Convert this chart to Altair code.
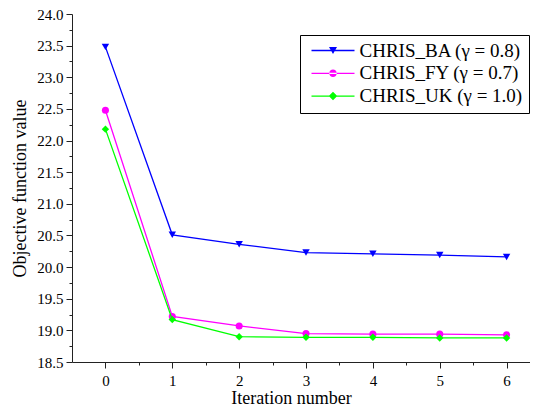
import altair as alt
import pandas as pd

iterations = [0, 1, 2, 3, 4, 5, 6]
ba = [23.48, 20.51, 20.36, 20.23, 20.21, 20.19, 20.16]
fy = [22.48, 19.22, 19.07, 18.95, 18.94, 18.94, 18.93]
uk = [22.18, 19.17, 18.90, 18.89, 18.89, 18.88, 18.88]

series_names = ["CHRIS_BA (γ = 0.8)", "CHRIS_FY (γ = 0.7)", "CHRIS_UK (γ = 1.0)"]
series_colors = ["#0000FF", "#FF00FF", "#00FF00"]
series_shapes = ["triangle-down", "circle", "diamond"]
series_sizes = [55, 50, 55]
legend_paths = [
    "M-4.3,-0.13H4.3V0.13H-4.3Z M-0.8,-0.7H0.8L0,0.7Z",
    "M-4.3,-0.13H4.3V0.13H-4.3Z M-0.75,0A0.75,0.75,0,1,0,0.75,0A0.75,0.75,0,1,0,-0.75,0Z",
    "M-4.3,-0.13H4.3V0.13H-4.3Z M0,-0.85L0.85,0L0,0.85L-0.85,0Z",
]

x_major = [0, 1, 2, 3, 4, 5, 6]
x_minor = [0.5, 1.5, 2.5, 3.5, 4.5, 5.5]
y_major = [18.5, 19.0, 19.5, 20.0, 20.5, 21.0, 21.5, 22.0, 22.5, 23.0, 23.5, 24.0]
y_minor = [18.75, 19.25, 19.75, 20.25, 20.75, 21.25, 21.75, 22.25, 22.75, 23.25, 23.75]

rows = []
for name, vals in zip(series_names, [ba, fy, uk]):
    for it, v in zip(iterations, vals):
        rows.append({"iter": it, "value": v, "series": name})
df = pd.DataFrame(rows)

FONT = "Times New Roman, Liberation Serif, serif"
AX = "#222222"
xscale = alt.Scale(domain=[-0.5, 6.35], nice=False, zero=False)
yscale = alt.Scale(domain=[18.5, 24.0], nice=False, zero=False)

x_axis = alt.Axis(values=x_major, tickSize=6, labelFont=FONT, labelFontSize=15,
                  labelColor="black", labelPadding=5, domainColor=AX, tickColor=AX,
                  grid=False, title="Iteration number", titleFont=FONT,
                  titleFontSize=18, titleFontWeight="normal", titleColor="black",
                  titleX=219, titleY=41, titleBaseline="alphabetic", orient="bottom",
                  labelFlush=False)
y_axis = alt.Axis(values=y_major, format=".1f", tickSize=6, labelFont=FONT,
                  labelFontSize=15, labelColor="black", labelPadding=3,
                  domainColor=AX, tickColor=AX, grid=False,
                  title="Objective function value", titleFont=FONT, titleFontSize=18,
                  titleFontWeight="normal", titleColor="black", titleX=-47, titleY=174,
                  titleBaseline="alphabetic", orient="left", labelFlush=False)
x_minor_axis = alt.Axis(values=x_minor, tickSize=3, labels=False, domain=False,
                        tickColor=AX, grid=False, title=None, orient="bottom")
y_minor_axis = alt.Axis(values=y_minor, tickSize=3, labels=False, domain=False,
                        tickColor=AX, grid=False, title=None, orient="left")

layers = []
layers.append(
    alt.Chart(df).mark_point(opacity=0).encode(
        x=alt.X("iter:Q", scale=xscale, axis=x_minor_axis),
        y=alt.Y("value:Q", scale=yscale, axis=y_minor_axis),
    )
)
for i, (name, col, shp, sz) in enumerate(zip(series_names, series_colors, series_shapes, series_sizes)):
    layers.append(
        alt.Chart(df).transform_filter(alt.datum.series == name).mark_line(
            color=col, strokeWidth=1.3,
            point=alt.OverlayMarkDef(shape=shp, filled=True, size=sz, color=col, opacity=1),
        ).encode(
            x=alt.X("iter:Q", scale=xscale, axis=x_axis if i == 0 else None),
            y=alt.Y("value:Q", scale=yscale, axis=y_axis if i == 0 else None),
        )
    )

legend_df = pd.DataFrame({"series": series_names})
layers.append(
    alt.Chart(legend_df).mark_point(filled=True, size=100, opacity=1, clip=True).encode(
        x=alt.value(-300),
        y=alt.value(-300),
        color=alt.Color("series:N", scale=alt.Scale(domain=series_names, range=series_colors),
                        legend=alt.Legend(title=None, orient="none", legendX=228, legendY=21,
                                          labelFont=FONT, labelFontSize=19, labelColor="black",
                                          labelLimit=400, padding=6, rowPadding=2.8,
                                          symbolOffset=17.5, labelOffset=17,
                                          strokeColor="black", fillColor="white",
                                          cornerRadius=0, symbolSize=100)),
        shape=alt.Shape("series:N", scale=alt.Scale(domain=series_names, range=legend_paths)),
    )
)

chart = alt.layer(*layers).resolve_axis(x="independent", y="independent").properties(
    width=458, height=348,
    autosize=alt.AutoSizeParams(type="none"),
    padding={"left": 64, "top": 6, "right": 0, "bottom": 44},
    background="white",
).configure_view(stroke=None)

chart.save("out.html", embed_options={"renderer": "svg", "actions": False})
